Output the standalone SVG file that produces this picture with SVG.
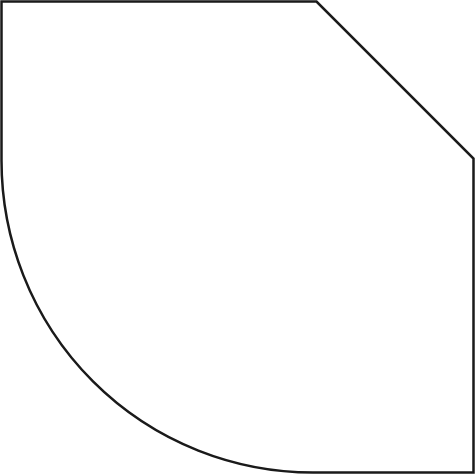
<svg xmlns="http://www.w3.org/2000/svg" width="475" height="475" viewBox="0 0 475 475">
<style>.s{fill:#fff;stroke:#1a1a1a;stroke-width:2.5;stroke-linejoin:miter}</style>
<rect width="475" height="475" fill="#fff"/>
<path class="s" d="M1.5,1.5 H316.5 L473.5,158.5 V472.5 H313 A311.5,312 0 0 1 1.5,160.5 Z"/>
</svg>
